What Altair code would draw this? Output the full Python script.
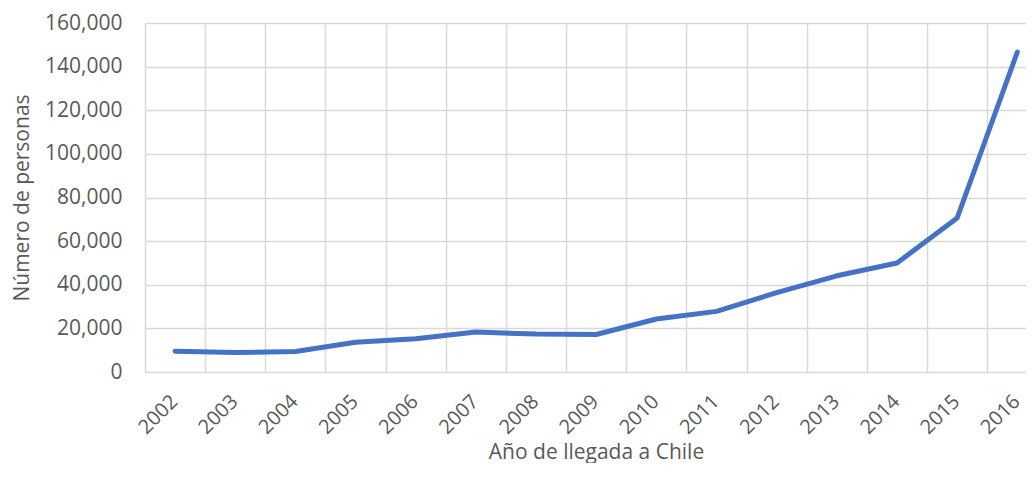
import altair as alt
import pandas as pd

# ---- data ----
years = [2002, 2003, 2004, 2005, 2006, 2007, 2008, 2009,
         2010, 2011, 2012, 2013, 2014, 2015, 2016]
persons = [9500, 8900, 9400, 13600, 15200, 18300, 17400, 17200,
           24300, 27800, 36400, 44100, 50000, 70600, 146700]
y_ticks = [0, 20000, 40000, 60000, 80000, 100000, 120000, 140000, 160000]
x_bounds = [y - 0.5 for y in years]  # category boundaries (vertical gridlines)

x_title = "Año de llegada a Chile"
y_title = "Número de personas"

df = pd.DataFrame({"year": years, "persons": persons})

GREY_TEXT = "#595959"
GRID = "#d9d9d9"
FONT = "Open Sans"

chart = alt.Chart(df).mark_line(
    color="#4472C4", strokeWidth=5, strokeCap="round", strokeJoin="round"
).encode(
    x=alt.X(
        "year:Q",
        scale=alt.Scale(domain=[2001.5, 2016.144], nice=False, zero=False),
        axis=alt.Axis(
            values=x_bounds,
            labelExpr="format(datum.value + 0.5, 'd')",
            labelOffset=22,
            labelAngle=-45,
            labelFontSize=20,
            labelFlush=False,
            labelOverlap=False,
            labelBound=False,
            ticks=False,
            tickSize=0,
            labelPadding=19,
            domain=False,
            grid=True,
            title=x_title,
            titleX=451,
            titleY=86,
            titleAlign="center",
            titleBaseline="alphabetic",
        ),
    ),
    y=alt.Y(
        "persons:Q",
        scale=alt.Scale(domain=[0, 160000], nice=False),
        axis=alt.Axis(
            values=y_ticks,
            format=",d",
            ticks=False,
            tickSize=0,
            labelPadding=23,
            domain=False,
            grid=True,
            title=y_title,
            titlePadding=12,
        ),
    ),
).properties(
    width=881,
    height=349,
    autosize=alt.AutoSizeParams(type="none"),
    padding={"left": 137, "top": 15, "right": 0, "bottom": 91},
).configure(
    font=FONT,
).configure_view(
    stroke=None,
).configure_axis(
    labelFont=FONT,
    titleFont=FONT,
    labelFontSize=21,
    titleFontSize=21,
    labelColor=GREY_TEXT,
    titleColor=GREY_TEXT,
    titleFontWeight="normal",
    gridColor=GRID,
    gridWidth=1.5,
    gridOpacity=1,
)

chart.save("out.html", embed_options={"renderer": "svg", "actions": False})
